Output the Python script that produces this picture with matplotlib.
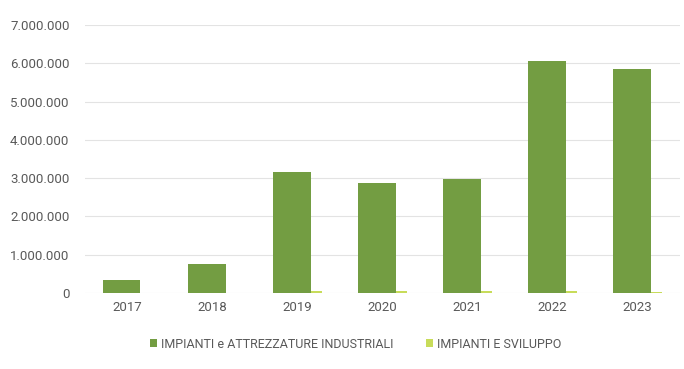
import numpy as np
import matplotlib.pyplot as plt
from matplotlib.ticker import FuncFormatter

anni = ['2017', '2018', '2019', '2020', '2021', '2022', '2023']
impianti_attrezzature = [340000, 770000, 3160000, 2870000, 2990000, 6070000, 5850000]
impianti_sviluppo = [0, 0, 40000, 50000, 45000, 40000, 20000]
serie_labels = ['IMPIANTI e ATTREZZATURE INDUSTRIALI', 'IMPIANTI E SVILUPPO']

plt.rcParams['font.family'] = ['Roboto', 'DejaVu Sans']

fig = plt.figure(figsize=(6.84, 3.69), dpi=100)
ax = fig.add_axes([0.124, 0.206, 0.870, 0.726])

x = np.arange(len(anni))
w = 0.44
# barre sovrapposte come in Excel
ax.bar(x + 0.065, impianti_sviluppo, w, color='#C8DC5A', label=serie_labels[1], zorder=2)
ax.bar(x - 0.065, impianti_attrezzature, w, color='#739D42', label=serie_labels[0], zorder=3)

ax.set_ylim(0, 7000000)
ax.set_xlim(-0.5, 6.5)
ax.set_yticks(np.arange(0, 7000001, 1000000))
ax.yaxis.set_major_formatter(FuncFormatter(lambda v, p: f'{int(v):,}'.replace(',', '.')))
ax.set_xticks(x)
ax.set_xticklabels(anni)
ax.grid(axis='y', color='#E3E3E3', linewidth=0.8, zorder=0)
for s in ax.spines.values():
    s.set_visible(False)
ax.tick_params(length=0, colors='#595959', labelsize=9.5)
ax.tick_params(axis='y', pad=11)
ax.tick_params(axis='x', pad=6)

h, l = ax.get_legend_handles_labels()
ax.legend(h[::-1], l[::-1], loc='upper center', bbox_to_anchor=(0.455, -0.125), ncol=2, frameon=False,
          fontsize=9, labelcolor='#595959', handlelength=0.6, handleheight=0.6,
          handletextpad=0.3, columnspacing=2.6)

fig.savefig('out.png')
